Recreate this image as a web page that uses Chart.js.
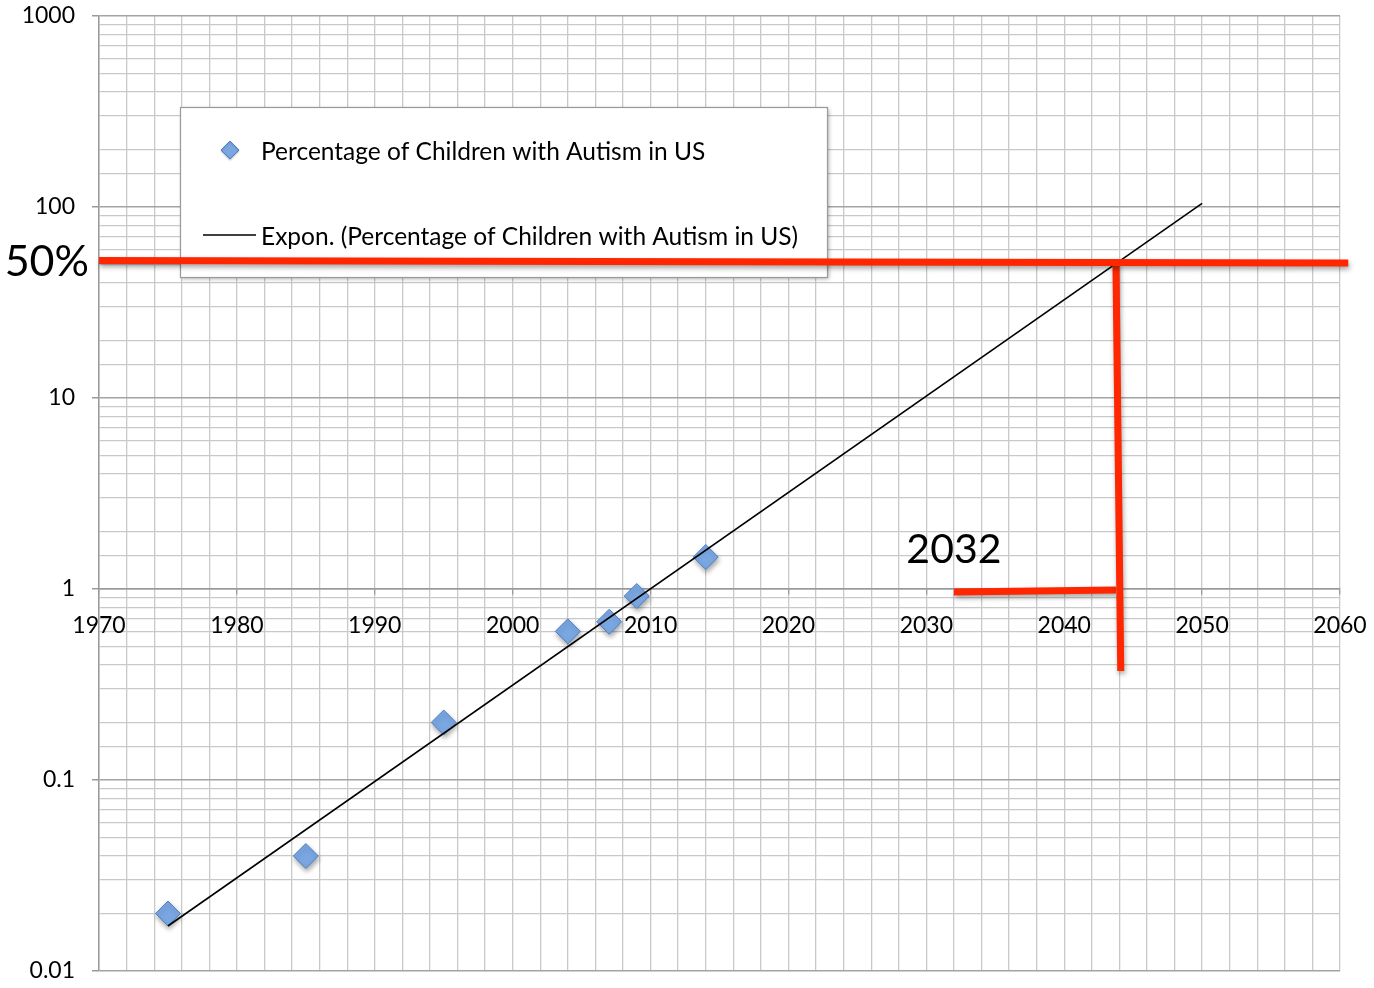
<!DOCTYPE html>
<html>
<head>
<meta charset="utf-8">
<script src="https://cdn.jsdelivr.net/npm/chart.js@4"></script>
<style>
  html, body { margin: 0; padding: 0; background: #fff; }
  #wrap { width: 1374px; height: 988px; }
</style>
</head>
<body>
<div id="wrap"><canvas id="chart" width="1374" height="988"></canvas></div>
<script>
const years    = [1975, 1985, 1995, 2004, 2007, 2009, 2014];
const percents = [0.02, 0.04, 0.2, 0.6, 0.674, 0.919, 1.47];

// exponential trend, read at its two ends
const trendYears  = [1975, 2050];
const trendValues = [0.0172, 104.5];

// hand-drawn red marks
const redHX = [1970, 2060.6],    redHY = [52.5, 50.9];
const redVX = [2043.75, 2044.1], redVY = [51.5, 0.372];
const redSX = [2032, 2043.75],   redSY = [0.965, 0.988];

const xTicks = [1970, 1980, 1990, 2000, 2010, 2020, 2030, 2040, 2050, 2060];
const yTicks = [0.01, 0.1, 1, 10, 100, 1000];

const seriesLabel = 'Percentage of Children with Autism in US';
const trendLabel  = 'Expon. (Percentage of Children with Autism in US)';
const notes = [
  { text: '50%',  x: null, y: 51.5, align: 'right' },
  { text: '2032', x: 2032, y: 1.6,  align: 'center' }
];

const COLORS = {
  minor:  '#c9c9c9',
  major:  '#a3a3a3',
  axis:   '#9a9a9a',
  red:    '#ff2600',
  blue:   '#7aa7e2',
  blueEdge: '#4f80c6'
};

const FONT = "Lato, 'Open Sans', sans-serif";
Chart.defaults.font.family = FONT;
Chart.defaults.font.size   = 23;
Chart.defaults.color       = '#000';

const pts = (xs, ys) => xs.map((x, i) => ({ x, y: ys[i] }));
const isDecade = v => Math.abs(Math.log10(v) - Math.round(Math.log10(v))) < 1e-6;

// ── shadows under markers and red lines ──────────────────
const shadowPlugin = {
  id: 'shadow',
  beforeDatasetDraw(chart, args) {
    const ds = chart.data.datasets[args.index];
    if (!ds.shadow) return;
    const ctx = chart.ctx;
    ctx.save();
    ctx.shadowColor   = 'rgba(0,0,0,0.35)';
    ctx.shadowBlur    = 5;
    ctx.shadowOffsetX = 1;
    ctx.shadowOffsetY = 3;
  },
  afterDatasetDraw(chart, args) {
    if (chart.data.datasets[args.index].shadow) chart.ctx.restore();
  }
};

// ── legend box inside the plot ───────────────────────────
const legendBox = {
  id: 'legendBox',
  beforeDatasetsDraw(chart) {
    const ctx = chart.ctx;
    const bx = 180, by = 107, bw = 647, bh = 170;
    ctx.save();
    ctx.shadowColor = 'rgba(0,0,0,0.3)';
    ctx.shadowBlur = 4;
    ctx.shadowOffsetX = 2;
    ctx.shadowOffsetY = 2;
    ctx.fillStyle = '#fff';
    ctx.fillRect(bx, by, bw, bh);
    ctx.restore();
    ctx.save();
    ctx.strokeStyle = '#9a9a9a';
    ctx.lineWidth = 1.2;
    ctx.strokeRect(bx + 0.5, by + 0.5, bw, bh);

    ctx.shadowColor = 'rgba(0,0,0,0.25)';
    ctx.shadowBlur = 2;
    ctx.shadowOffsetY = 1;
    ctx.fillStyle = COLORS.blue;
    ctx.strokeStyle = COLORS.blueEdge;
    ctx.lineWidth = 1;
    Chart.helpers.drawPoint(ctx, { pointStyle: 'rectRot', radius: 9, borderWidth: 1 }, 230, 150);
    ctx.shadowColor = 'transparent';

    ctx.strokeStyle = '#000';
    ctx.lineWidth = 1.5;
    ctx.beginPath();
    ctx.moveTo(203, 235);
    ctx.lineTo(256, 235);
    ctx.stroke();

    ctx.fillStyle = '#000';
    ctx.font = '24.5px ' + FONT;
    ctx.textBaseline = 'middle';
    ctx.textAlign = 'left';
    ctx.fillText(seriesLabel, 261, 152);
    ctx.fillText(trendLabel, 261, 237);
    ctx.restore();
  }
};

// ── big annotation labels ────────────────────────────────
const notesPlugin = {
  id: 'notes',
  afterDatasetsDraw(chart) {
    const { ctx, scales: { x, y } } = chart;
    ctx.save();
    ctx.fillStyle = '#000';
    ctx.textBaseline = 'middle';
    notes.forEach(n => {
      const px = n.x === null ? x.left - 10 : x.getPixelForValue(n.x);
      ctx.font = (n.x === null ? '43px ' : '41px ') + FONT;
      ctx.textAlign = n.align;
      ctx.fillText(n.text, px, y.getPixelForValue(n.y));
    });
    ctx.restore();
  }
};

new Chart(document.getElementById('chart'), {
  type: 'scatter',
  data: {
    datasets: [
      {
        label: 'red 50%', data: pts(redHX, redHY), showLine: true,
        borderColor: COLORS.red, borderWidth: 7, pointRadius: 0,
        clip: false, order: 0, shadow: true
      },
      {
        label: 'red year', data: pts(redVX, redVY), showLine: true,
        borderColor: COLORS.red, borderWidth: 7, pointRadius: 0,
        clip: false, order: 0, shadow: true
      },
      {
        label: 'red 2032', data: pts(redSX, redSY), showLine: true,
        borderColor: COLORS.red, borderWidth: 7, pointRadius: 0,
        clip: false, order: 0, shadow: true
      },
      {
        label: trendLabel, data: pts(trendYears, trendValues), showLine: true,
        borderColor: '#000', borderWidth: 1.6, pointRadius: 0, order: 1
      },
      {
        label: seriesLabel, data: pts(years, percents),
        pointStyle: 'rectRot', pointRadius: 12.5,
        backgroundColor: COLORS.blue, borderColor: COLORS.blueEdge, borderWidth: 1,
        order: 2, shadow: true
      }
    ]
  },
  options: {
    responsive: false,
    animation: false,
    devicePixelRatio: 1,
    layout: { padding: { top: 16, right: 34, bottom: 17, left: 0 } },
    plugins: {
      legend:  { display: false },
      tooltip: { enabled: false }
    },
    scales: {
      x: {
        type: 'linear',
        min: 1970, max: 2060,
        position: { y: 1 },
        afterFit: s => { s.paddingLeft = 0; s.paddingRight = 0; },
        border: { color: COLORS.axis, width: 1.5 },
        grid: {
          color: COLORS.minor, lineWidth: 1.3,
          tickLength: 5,
          tickColor: c => xTicks.includes(c.tick.value) ? COLORS.axis : 'transparent'
        },
        ticks: {
          stepSize: 2, autoSkip: false, maxRotation: 0, padding: 18,
          callback: v => xTicks.includes(v) ? String(v) : ''
        }
      },
      y: {
        type: 'logarithmic',
        min: 0.01, max: 1000,
        afterFit: s => { s.width = 99; s.paddingTop = 0; s.paddingBottom = 0; },
        border: { color: COLORS.axis, width: 1.5 },
        grid: {
          color: c => isDecade(c.tick.value) ? COLORS.major : COLORS.minor,
          lineWidth: c => isDecade(c.tick.value) ? 1.5 : 1.3,
          tickLength: 7,
          tickColor: c => isDecade(c.tick.value) ? COLORS.axis : 'transparent'
        },
        ticks: {
          autoSkip: false, padding: 17,
          callback: v => yTicks.some(t => Math.abs(t - v) < t * 1e-6) ? String(v) : ''
        }
      }
    }
  },
  plugins: [shadowPlugin, legendBox, notesPlugin]
});
</script>
</body>
</html>
